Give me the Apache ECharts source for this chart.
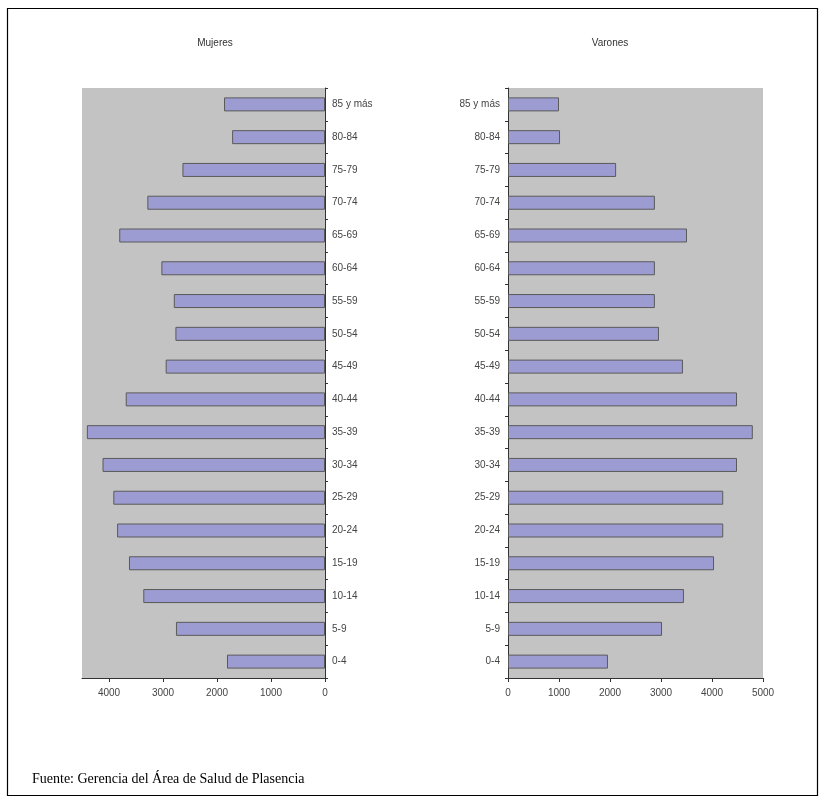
<!DOCTYPE html>
<html>
<head>
<meta charset="utf-8">
<script src="https://cdn.jsdelivr.net/npm/echarts@6/dist/echarts.min.js"></script>
<style>
html,body{margin:0;padding:0;background:#fff;}
#c{width:826px;height:803px;}
</style>
</head>
<body>
<div id="c"></div>
<script>
const categories = ['0-4','5-9','10-14','15-19','20-24','25-29','30-34','35-39','40-44','45-49','50-54','55-59','60-64','65-69','70-74','75-79','80-84','85 y más'];
const mujeres = [1815, 2760, 3365, 3630, 3850, 3920, 4120, 4410, 3690, 2950, 2770, 2800, 3030, 3810, 3290, 2640, 1720, 1870];
const varones = [1960, 3020, 3450, 4040, 4220, 4220, 4490, 4800, 4490, 3430, 2960, 2880, 2880, 3510, 2880, 2120, 1020, 1000];
const leftTicks = [0, 1000, 2000, 3000, 4000];
const rightTicks = [0, 1000, 2000, 3000, 4000, 5000];
const titles = ['Mujeres', 'Varones'];
const source = 'Fuente: Gerencia del Área de Salud de Plasencia';

const chart = echarts.init(document.getElementById('c'), null, {renderer: 'canvas'});
const lblFont = {fontFamily: 'Liberation Sans, Arial, sans-serif', fontSize: 10, color: '#444'};
const barStyle = {color: '#9d9cd2', borderColor: '#5a5a5a', borderWidth: 1};
const axisLine = {lineStyle: {color: '#333', width: 1}};

chart.setOption({
  animation: false,
  grid: [
    {left: 82, right: 826 - 325, top: 88, bottom: 803 - 678, show: true, backgroundColor: '#c3c3c3', borderWidth: 0},
    {left: 508, right: 826 - 763, top: 88, bottom: 803 - 678, show: true, backgroundColor: '#c3c3c3', borderWidth: 0}
  ],
  xAxis: [
    {gridIndex: 0, type: 'value', inverse: true, min: 0, max: 4500, interval: 1000,
     splitLine: {show: false}, axisLine: Object.assign({show: true}, axisLine),
     axisTick: {show: true, length: 4, lineStyle: {color: '#333'}},
     axisLabel: Object.assign({showMaxLabel: false, margin: 10,
       formatter: v => leftTicks.indexOf(v) >= 0 ? String(v) : ''}, lblFont)},
    {gridIndex: 1, type: 'value', min: 0, max: 5000, interval: 1000,
     splitLine: {show: false}, axisLine: Object.assign({show: true}, axisLine),
     axisTick: {show: true, length: 4, lineStyle: {color: '#333'}},
     axisLabel: Object.assign({margin: 10,
       formatter: v => rightTicks.indexOf(v) >= 0 ? String(v) : ''}, lblFont)}
  ],
  yAxis: [
    {gridIndex: 0, type: 'category', data: categories, position: 'right',
     axisLine: Object.assign({show: true}, axisLine),
     axisTick: {show: true, length: 3, lineStyle: {color: '#333'}},
     axisLabel: Object.assign({margin: 7, align: 'left'}, lblFont)},
    {gridIndex: 1, type: 'category', data: categories, position: 'left',
     axisLine: Object.assign({show: true}, axisLine),
     axisTick: {show: true, length: 3, lineStyle: {color: '#333'}},
     axisLabel: Object.assign({margin: 8, align: 'right'}, lblFont)}
  ],
  series: [
    {name: titles[0], type: 'bar', xAxisIndex: 0, yAxisIndex: 0, data: mujeres, barWidth: 14, itemStyle: barStyle},
    {name: titles[1], type: 'bar', xAxisIndex: 1, yAxisIndex: 1, data: varones, barWidth: 14, itemStyle: barStyle}
  ],
  graphic: [
    {type: 'rect', shape: {x: 7.5, y: 8.5, width: 810, height: 787}, style: {fill: 'none', stroke: '#000', lineWidth: 1.2}, silent: true, z: -1},
    {type: 'text', x: 215, y: 43, style: {text: titles[0], fill: '#333', font: '10px Liberation Sans, Arial, sans-serif', align: 'center', verticalAlign: 'middle'}},
    {type: 'text', x: 610, y: 43, style: {text: titles[1], fill: '#333', font: '10px Liberation Sans, Arial, sans-serif', align: 'center', verticalAlign: 'middle'}},
    {type: 'text', x: 32, y: 779, style: {text: source, fill: '#000', font: '14px Liberation Serif, Times New Roman, serif', align: 'left', verticalAlign: 'middle'}}
  ]
});
</script>
</body>
</html>
